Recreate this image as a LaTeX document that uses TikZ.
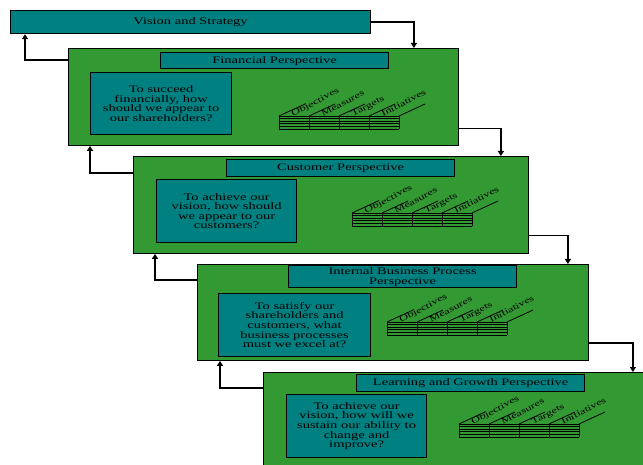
\documentclass[tikz,border=0pt]{standalone}
\usepackage{fontspec}
\setmainfont{Liberation Serif}[FakeStretch=1.45]
\usetikzlibrary{arrows.meta}
\definecolor{bscteal}{RGB}{0,128,128}
\definecolor{bscgreen}{RGB}{51,153,51}
\tikzset{
  panel/.style={draw=black, fill=bscgreen, line width=0.9pt, anchor=north west,
    minimum height=97pt, inner sep=0pt},
  headbox/.style={draw=black, fill=bscteal, line width=1.2pt, anchor=north west,
    minimum width=228pt, minimum height=17pt, inner sep=0pt, align=center,
    font=\fontsize{10}{10}\selectfont},
  askbox/.style={draw=black, fill=bscteal, line width=1.2pt, anchor=north west,
    minimum width=141pt, minimum height=63pt, inner sep=0pt, align=center,
    font=\fontsize{10}{9.6}\selectfont},
  grid/.style={draw=black, line width=0.8pt},
  colhead/.style={anchor=base west, rotate=28, inner sep=0pt,
    font=\fontsize{8.5}{9}\selectfont},
  flow/.style={-{Triangle[width=6pt,length=5pt]}, line width=1.2pt}
}
\begin{document}
\begin{tikzpicture}[x=1pt,y=-1pt]
\useasboundingbox (0,0) rectangle (643,465);
\clip (0,0) rectangle (643,465);
% top box
\node[headbox, minimum width=360pt, minimum height=23pt] (vision) at (10,10) {Vision and Strategy};
% the four perspectives
\node[panel, minimum width=390pt] (fin) at (68,48) {};
\node[panel, minimum width=395pt] (cust) at (133,156) {};
\node[panel, minimum width=391pt, minimum height=96pt] (intp) at (197,264) {};
\node[panel, minimum width=392pt] (learn) at (263,372) {};
\node[headbox, minimum height=16pt] (finhead) at (160,52) {Financial Perspective};
\node[headbox] (custhead) at (226,159) {Customer Perspective};
\node[headbox, minimum height=22pt] (intphead) at (288,265) {Internal Business Process\\Perspective};
\node[headbox] (learnhead) at (356,374) {Learning and Growth Perspective};
\node[askbox, minimum height=62pt] (finask) at (90,72) {To succeed\\financially, how\\should we appear to\\our shareholders?};
\node[askbox, minimum width=140pt] (custask) at (156,179) {To achieve our\\vision, how should\\we appear to our\\customers?};
\node[askbox, minimum width=152pt] (intpask) at (218,293) {To satisfy our\\shareholders and\\customers, what\\business processes\\must we excel at?};
\node[askbox, minimum width=140pt] (learnask) at (286,394) {To achieve our\\vision, how will we\\sustain our ability to\\change and\\improve?};
% small tables
\foreach \tx/\ty/\tn in {279/116/fin,352/213/cust,387/322/intp,459/424/learn}{
  \foreach \r in {0,...,5}
    \draw[grid] (\tx,\ty+\r*2.6) -- (\tx+120,\ty+\r*2.6);
  \foreach \c [count=\k from 0] in {Objectives,Measures,Targets,Initiatives}{
    \draw[grid] (\tx+\k*30,\ty) -- (\tx+\k*30,\ty+13);
    \draw[grid] (\tx+\k*30,\ty) -- ++(26,-12);
    \node[colhead] (\tn-\k) at (\tx+\k*30+14,\ty+1) {\c};
  }
  \draw[grid] (\tx+120,\ty) -- (\tx+120,\ty+13);
  \draw[grid] (\tx+120,\ty) -- ++(26,-12);
}
% connectors
\draw[flow] (vision.east) -| ([xshift=-45pt]fin.north east);
\draw[flow] ([yshift=17pt]fin.south east) -| ([xshift=-28pt]cust.north east);
\draw[flow] ([yshift=18pt]cust.south east) -| ([xshift=-21pt]intp.north east);
\draw[flow] ([yshift=18pt]intp.south east) -| ([xshift=-23pt]learn.north east);
\draw[flow] ([yshift=-12pt]fin.north west) -| ([xshift=15pt]vision.south west);
\draw[flow] ([yshift=-17pt]cust.north west) -| ([xshift=22pt]fin.south west);
\draw[flow] ([yshift=-16pt]intp.north west) -| ([xshift=22pt]cust.south west);
\draw[flow] ([yshift=-16pt]learn.north west) -| ([xshift=23pt]intp.south west);
\end{tikzpicture}
\end{document}
